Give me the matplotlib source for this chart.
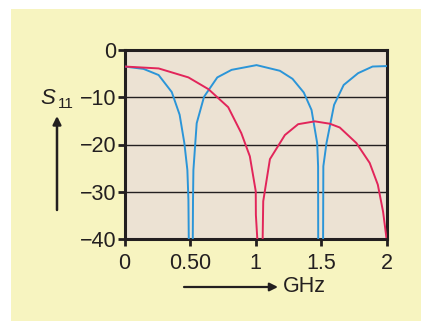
import matplotlib.pyplot as plt
import numpy as np

# blue trace (GHz, dB)
blue_f = [0.0, 0.145, 0.26, 0.36, 0.42, 0.456, 0.479, 0.487, 0.49,
          0.52, 0.522, 0.525, 0.55, 0.606, 0.707, 0.816, 1.006, 1.184, 1.28,
          1.366, 1.425, 1.468, 1.475, 1.476,
          1.513, 1.515, 1.539, 1.597, 1.67, 1.78, 1.89, 2.0]
blue_s = [-3.5, -4.0, -5.3, -8.9, -13.7, -19.7, -25.4, -31.7, -41,
          -41, -31.7, -25.4, -15.5, -9.9, -5.8, -4.2, -3.2, -4.4, -6.1,
          -9.0, -12.7, -19.7, -24.6, -41,
          -41, -24.6, -19.7, -11.6, -7.4, -4.9, -3.5, -3.4]

# red trace (GHz, dB)
red_f = [0.0, 0.26, 0.487, 0.64, 0.79, 0.89, 0.955, 1.0, 1.001, 1.014,
         1.052, 1.057, 1.108, 1.222, 1.323, 1.45, 1.564, 1.64, 1.767,
         1.868, 1.93, 1.97, 1.995]
red_s = [-3.5, -3.9, -5.8, -8.3, -12.1, -17.6, -22.5, -29.9, -34.9, -41,
         -41, -32.0, -23.1, -18.0, -15.7, -15.1, -15.6, -16.4, -19.7,
         -23.9, -28.5, -34.2, -39.6]

xticks = [0, 0.5, 1, 1.5, 2]
xlabels = ['0', '0.50', '1', '1.5', '2']
yticks = [0, -10, -20, -30, -40]
ylabels = ['0', '\u221210', '\u221220', '\u221230', '\u221240']

plt.rcParams['font.family'] = ['Liberation Sans', 'DejaVu Sans']
ink = '#231f20'

W, H = 421, 321
fig = plt.figure(figsize=(W / 100, H / 100), dpi=100)
fig.patch.set_facecolor('white')

# yellow panel behind everything
panel = plt.Rectangle((11 / W, 0), 1 - 11 / W, 1 - 9 / H, transform=fig.transFigure,
                      facecolor='#f7f4c0', edgecolor='none', zorder=-10)
fig.patches.append(panel)

ax = fig.add_axes([124.5 / W, 1 - 239 / H, (387 - 124.5) / W, (239 - 50) / H])
ax.set_facecolor('#ece2d3')

for yg in [-10, -20, -30]:
    ax.axhline(yg, color=ink, lw=1.0, zorder=1)

ax.plot(blue_f, blue_s, color='#2b95d8', lw=1.4, zorder=3)
ax.plot(red_f, red_s, color='#e2255a', lw=1.4, zorder=3)

ax.set_xlim(0, 2)
ax.set_ylim(-40, 0)
ax.set_xticks(xticks)
ax.set_xticklabels(xlabels)
ax.set_yticks(yticks)
ax.set_yticklabels(ylabels)
ax.tick_params(direction='out', length=5, width=2, color=ink,
               labelsize=15.5, labelcolor=ink)
ax.tick_params(axis='x', pad=5)
ax.tick_params(axis='y', pad=1)
for sp in ax.spines.values():
    sp.set_linewidth(2.2)
    sp.set_color(ink)

# S11 label with vertical arrow
fig.text(40 / W, 1 - 104 / H, 'S', fontsize=16, style='italic', color=ink,
         ha='left', va='baseline')
fig.text(57.5 / W, 1 - 108 / H, '11', fontsize=11, color=ink,
         ha='left', va='baseline')
ax.annotate('', xy=(57 / W, 1 - 116 / H), xytext=(57 / W, 1 - 210 / H),
            xycoords='figure fraction', textcoords='figure fraction',
            arrowprops=dict(arrowstyle='-|>', color=ink, lw=1.8,
                            mutation_scale=12, shrinkA=0, shrinkB=0))

# GHz label with horizontal arrow
ax.annotate('', xy=(278 / W, 1 - 287 / H), xytext=(184 / W, 1 - 287 / H),
            xycoords='figure fraction', textcoords='figure fraction',
            arrowprops=dict(arrowstyle='-|>', color=ink, lw=1.6,
                            mutation_scale=12, shrinkA=0, shrinkB=0))
fig.text(283 / W, 1 - 287 / H, 'GHz', fontsize=15.5, color=ink,
         ha='left', va='center')

fig.savefig('out.png', dpi=100)
